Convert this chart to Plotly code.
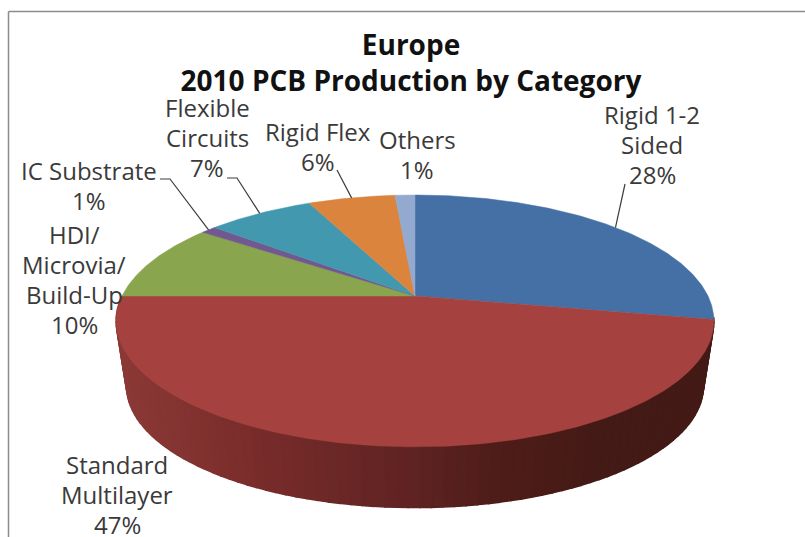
import numpy as np
import plotly.graph_objects as go

categories = ["Rigid 1-2<br>Sided", "Standard<br>Multilayer", "HDI/<br>Microvia/<br>Build-Up",
              "IC Substrate", "Flexible<br>Circuits", "Rigid Flex", "Others"]
values = [28, 47, 10, 1, 7, 5.7, 1.3]
colors = ["#4470A6", "#A5423F", "#89A54E", "#71588F", "#4198AF", "#DB843D", "#93A9CF"]
label_x = [652, 117, 74, 89, 207, 318, 417]
label_first_y = [114, 464, 234.5, 170.5, 107, 131, 139]
elbow_x = [None, None, None, 170, 237, None, None]
elbow_y = [None, None, None, 179, 178, None, None]
leader_start_x = [625, None, None, 160, 227, 337, None]
leader_start_y = [184, None, None, 179, 178, 170, None]

CX, CY, A, B, K = 415, 296, 293, 121, 0.198
S, CY2 = 0.965, 362
FONT = "Open Sans"
LINE_STEP = 30

def rim(theta_deg, scale=1.0, cy=CY):
    t = np.radians(theta_deg)
    u, v = np.sin(t), np.cos(t)
    w = 1 + K * v
    return CX + scale * A * u / w, cy - scale * B * v / w

total = sum(values)
cum = np.cumsum([0] + values) / total * 360

fig = go.Figure()

# side wall of the Standard Multilayer slice
stops_x = [118, 250, 415, 500, 620, 715]
stops_r = [0x8C, 0x7A, 0x5E, 0x4E, 0x43, 0x43]
stops_g = [0x3A, 0x2D, 0x23, 0x1D, 0x1A, 0x1A]
stops_b = [0x37, 0x2B, 0x22, 0x19, 0x16, 0x16]
edges = np.linspace(cum[1] - 1, cum[2], 91)
for a0, a1 in zip(edges[:-1], edges[1:]):
    arc = np.array([a0, a1])
    xt, yt = rim(arc)
    xb, yb = rim(arc, S, CY2)
    xm = (xt.mean() + xb.mean()) / 2
    c = "rgb(%d,%d,%d)" % (np.interp(xm, stops_x, stops_r),
                           np.interp(xm, stops_x, stops_g),
                           np.interp(xm, stops_x, stops_b))
    fig.add_trace(go.Scatter(
        x=np.r_[xt, xb[::-1], xt[0]], y=np.r_[yt, yb[::-1], yt[0]],
        mode="lines", fill="toself", fillcolor=c, line=dict(color=c, width=1.5),
        hoverinfo="skip", showlegend=False))

# top face slices
for i, name in enumerate(categories):
    arc = np.linspace(cum[i], cum[i + 1], max(int(cum[i + 1] - cum[i]) * 2, 6))
    x, y = rim(arc)
    fig.add_trace(go.Scatter(
        x=np.r_[CX, x, CX], y=np.r_[CY, y, CY],
        mode="lines", fill="toself", fillcolor=colors[i],
        line=dict(color=colors[i], width=0.5),
        name=name.replace("<br>", " "), text=f"{values[i]:.0f}%",
        hoverinfo="name+text", showlegend=False))

# leader lines
for i in range(len(categories)):
    if leader_start_x[i] is None:
        continue
    xe, ye = rim((cum[i] + cum[i + 1]) / 2)
    xs = [leader_start_x[i]] + ([elbow_x[i]] if elbow_x[i] else []) + [float(xe)]
    ys = [leader_start_y[i]] + ([elbow_y[i]] if elbow_y[i] else []) + [float(ye)]
    fig.add_trace(go.Scatter(x=xs, y=ys, mode="lines",
                             line=dict(color="#3c3c3c", width=1.2),
                             hoverinfo="skip", showlegend=False))

annotations = []
for name, v, lx, ly in zip(categories, values, label_x, label_first_y):
    for n, line in enumerate(name.split("<br>") + [f"{round(v)}%"]):
        annotations.append(dict(
            x=lx, y=ly + n * LINE_STEP, xref="x", yref="y", showarrow=False,
            align="center", text=line,
            font=dict(family=FONT, size=24, color="#3a3a3a")))

fig.update_layout(
    width=805, height=537, margin=dict(l=0, r=0, t=0, b=0),
    paper_bgcolor="white", plot_bgcolor="white", showlegend=False,
    title=dict(text="<b>Europe<br>2010 PCB Production by Category</b>",
               x=411 / 805, xanchor="center", y=1 - 54.5 / 537, yanchor="top",
               font=dict(family=FONT, size=28, color="#111111")),
    xaxis=dict(range=[0, 805], visible=False, fixedrange=True),
    yaxis=dict(range=[537, 0], visible=False, fixedrange=True),
    annotations=annotations,
    shapes=[dict(type="line", xref="x", yref="y", x0=8.5, x1=8.5, y0=537, y1=11.5,
                 line=dict(color="#8c8c8c", width=1.5)),
            dict(type="line", xref="x", yref="y", x0=8.5, x1=805, y0=11.5, y1=11.5,
                 line=dict(color="#8c8c8c", width=1.5))],
)

fig.write_html("out.html", config=dict(displayModeBar=False),
               post_script="document.body.style.margin='0';document.body.style.overflow='hidden';")
